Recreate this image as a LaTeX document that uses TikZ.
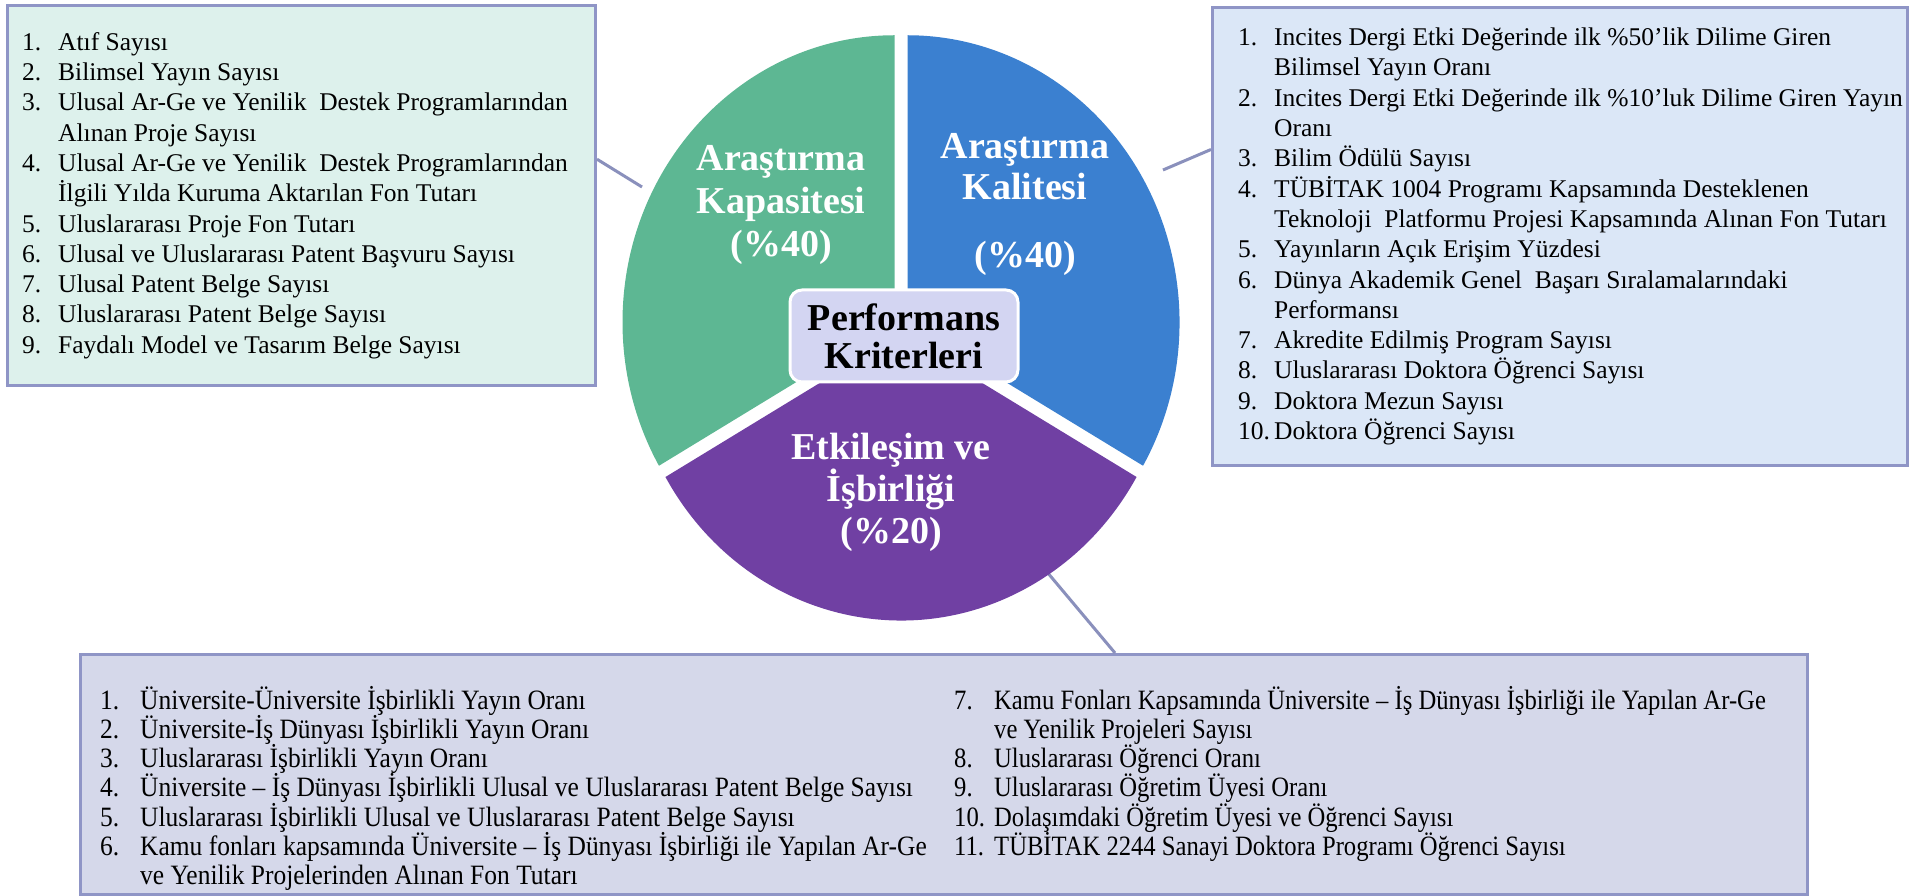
\documentclass[tikz,border=0pt]{standalone}
\usepackage{fontspec}
\setmainfont{Liberation Serif}
\newfontfamily\narrowserif[FakeStretch=0.91]{Liberation Serif}
\newfontfamily\narrowerserif[FakeStretch=0.88]{Liberation Serif}
\usetikzlibrary{positioning,calc}
\definecolor{kapcol}{HTML}{5DB793}
\definecolor{kalcol}{HTML}{3B80D0}
\definecolor{etkcol}{HTML}{7040A3}
\definecolor{lfill}{HTML}{DDF1EC}
\definecolor{rfill}{HTML}{DBE7F7}
\definecolor{bfill}{HTML}{D5D8EA}
\definecolor{framecol}{HTML}{8F95C6}
\definecolor{linecol}{HTML}{8A90BC}
\definecolor{hubfill}{HTML}{D3D5F2}
\tikzstyle{line} = [draw=linecol, line width=3pt]
\newcommand{\nr}[1]{\makebox[36pt][l]{#1}}
\newcommand{\bnr}[1]{\makebox[40pt][l]{#1}}

\begin{document}
\begin{tikzpicture}[x=1pt,y=1pt,
    listbox/.style={
      draw=framecol,
      line width=3pt,
      anchor=north west,
      inner sep=0pt
    },
    listtext/.style={
      align=left,
      inner sep=0pt,
      font=\fontsize{25.5}{30.3}\selectfont
    },
    blisttext/.style={
      align=left,
      inner sep=0pt,
      anchor=north west,
      font=\narrowserif\fontsize{28}{29.2}\selectfont
    },
    slicetext/.style={
      text=white,
      align=center,
      font=\bfseries\fontsize{38}{43}\selectfont
    },
    hub/.style={
      draw=white,
      line width=3pt,
      fill=hubfill,
      rounded corners=12pt,
      minimum width=228,
      minimum height=92,
      align=center,
      font=\bfseries\fontsize{38}{38}\selectfont
    }
  ]
  \useasboundingbox (0,0) rectangle (1913,895);

  \node[listbox,fill=lfill,minimum width=588,minimum height=380] (lbox) at (6,891) {};
  \node[listbox,fill=rfill,minimum width=695,minimum height=458] (rbox) at (1211,889) {};
  \node[listbox,fill=bfill,minimum width=1727,minimum height=240] (bbox) at (79,242) {};

  \node[listtext,anchor=west] (ltext) at ($(lbox.west)+(16,0)$) {%
    \nr{1.}Atıf Sayısı\\
    \nr{2.}Bilimsel Yayın Sayısı\\
    \nr{3.}Ulusal Ar-Ge ve Yenilik~ Destek Programlarından\\
    \nr{}Alınan Proje Sayısı\\
    \nr{4.}Ulusal Ar-Ge ve Yenilik~ Destek Programlarından\\
    \nr{}İlgili Yılda Kuruma Aktarılan Fon Tutarı\\
    \nr{5.}Uluslararası Proje Fon Tutarı\\
    \nr{6.}Ulusal ve Uluslararası Patent Başvuru Sayısı\\
    \nr{7.}Ulusal Patent Belge Sayısı\\
    \nr{8.}Uluslararası Patent Belge Sayısı\\
    \nr{9.}Faydalı Model ve Tasarım Belge Sayısı};

  \node[listtext,anchor=west] (rtext) at ($(rbox.west)+(27,0)$) {%
    \nr{1.}Incites Dergi Etki Değerinde ilk \%50’lik Dilime Giren\\
    \nr{}Bilimsel Yayın Oranı\\
    \nr{2.}Incites Dergi Etki Değerinde ilk \%10’luk Dilime Giren Yayın\\
    \nr{}Oranı\\
    \nr{3.}Bilim Ödülü Sayısı\\
    \nr{4.}TÜBİTAK 1004 Programı Kapsamında Desteklenen\\
    \nr{}Teknoloji~ Platformu Projesi Kapsamında Alınan Fon Tutarı\\
    \nr{5.}Yayınların Açık Erişim Yüzdesi\\
    \nr{6.}Dünya Akademik Genel~ Başarı Sıralamalarındaki\\
    \nr{}Performansı\\
    \nr{7.}Akredite Edilmiş Program Sayısı\\
    \nr{8.}Uluslararası Doktora Öğrenci Sayısı\\
    \nr{9.}Doktora Mezun Sayısı\\
    \nr{10.}Doktora Öğrenci Sayısı};

  \node[blisttext] (bltext) at ($(bbox.north west)+(21,-33)$) {%
    \bnr{1.}Üniversite-Üniversite İşbirlikli Yayın Oranı\\
    \bnr{2.}Üniversite-İş Dünyası İşbirlikli Yayın Oranı\\
    \bnr{3.}Uluslararası İşbirlikli Yayın Oranı\\
    \bnr{4.}Üniversite – İş Dünyası İşbirlikli Ulusal ve Uluslararası Patent Belge Sayısı\\
    \bnr{5.}Uluslararası İşbirlikli Ulusal ve Uluslararası Patent Belge Sayısı\\
    \bnr{6.}Kamu fonları kapsamında Üniversite – İş Dünyası İşbirliği ile Yapılan Ar-Ge\\
    \bnr{}ve Yenilik Projelerinden Alınan Fon Tutarı};
  \node[blisttext,font=\narrowerserif\fontsize{28}{29.2}\selectfont] (brtext) at ($(bbox.north west)+(875,-33)$) {%
    \bnr{7.}Kamu Fonları Kapsamında Üniversite – İş Dünyası İşbirliği ile Yapılan Ar-Ge\\
    \bnr{}ve Yenilik Projeleri Sayısı\\
    \bnr{8.}Uluslararası Öğrenci Oranı\\
    \bnr{9.}Uluslararası Öğretim Üyesi Oranı\\
    \bnr{10.}Dolaşımdaki Öğretim Üyesi ve Öğrenci Sayısı\\
    \bnr{11.}TÜBİTAK 2244 Sanayi Doktora Programı Öğrenci Sayısı};

  % pie, slices pulled apart a little
  \coordinate (c) at (901,569);
  \path (c)+(-6.5,3.75) coordinate (cg);
  \path (c)+(6.5,3.75) coordinate (cb);
  \path (c)+(0,-7.5) coordinate (cp);

  \coordinate (kpin) at (642,708);
  \coordinate (qpin) at (1163,725);
  \coordinate (ipin) at (1047,323);
  \coordinate (bpin) at ($(bbox.north west)+(1036,0)$);
  \draw[line] (lbox.7) -- (kpin);
  \draw[line] (rbox.166) -- (qpin);
  \draw[line] (ipin) -- (bpin);

  \fill[kapcol] (cg) -- +(0,287)
    arc[start angle=90,end angle=210,x radius=272,y radius=287] -- cycle;
  \fill[kalcol] (cb) -- +(235.56,-143.5)
    arc[start angle=-30,end angle=90,x radius=272,y radius=287] -- cycle;
  \fill[etkcol] (cp) -- +(-235.56,-143.5)
    arc[start angle=210,end angle=330,x radius=272,y radius=287] -- cycle;

  \node[slicetext] (kap) at (781,690) {Araştırma\\Kapasitesi\\(\%40)};
  \node[slicetext,font=\bfseries\fontsize{38}{41}\selectfont] (kal) at (1025,690) {Araştırma\\Kalitesi\\[27pt](\%40)};
  \node[slicetext,font=\bfseries\fontsize{38}{42}\selectfont] (etk) at (891,403) {Etkileşim ve\\İşbirliği\\(\%20)};

  \node[hub] (hub) at (904,559) {Performans\\Kriterleri};
\end{tikzpicture}
\end{document}
